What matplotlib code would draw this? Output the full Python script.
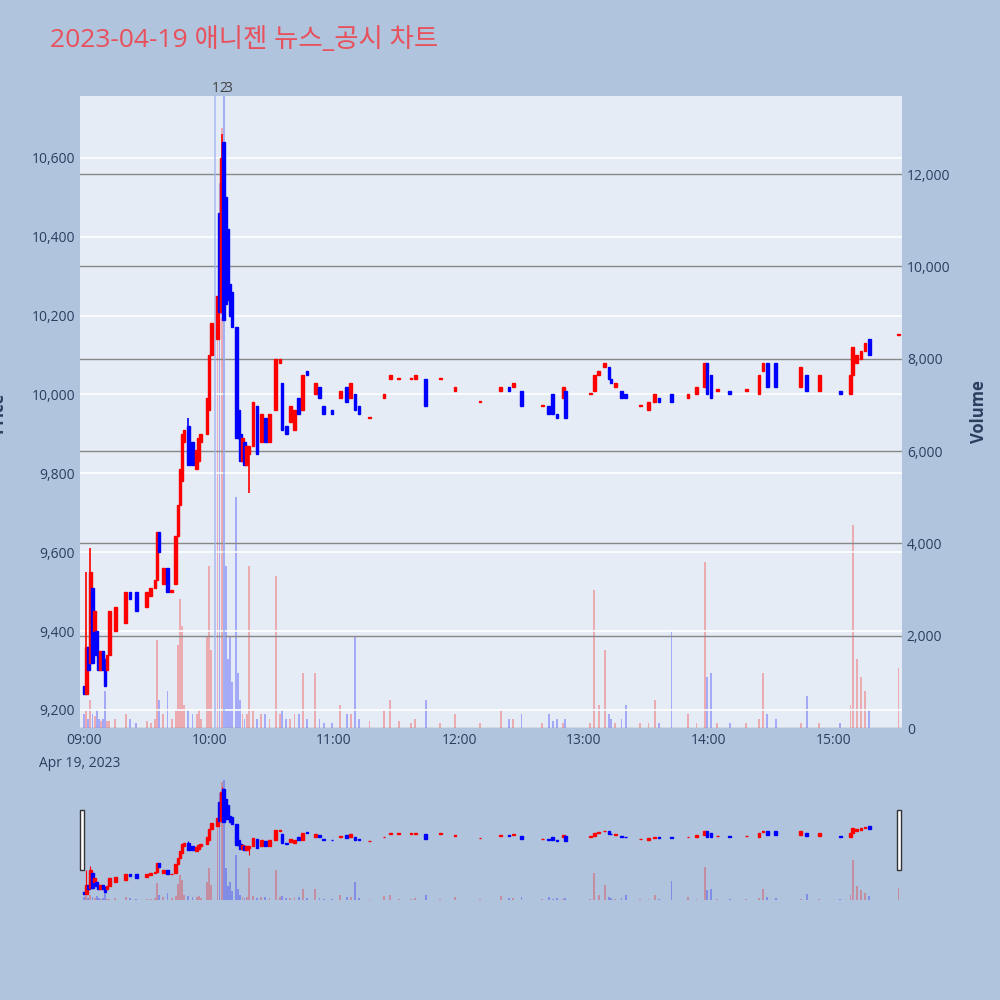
import matplotlib
matplotlib.use("Agg")
import matplotlib.pyplot as plt
from matplotlib.patches import Rectangle

plt.rcParams['font.family'] = ['Open Sans', 'Noto Sans CJK KR', 'DejaVu Sans']

# minute offsets from 09:00, open, close, volume
minutes = [0, 1, 2, 3, 4, 5, 6, 7, 8, 9, 10, 11, 12, 15, 20, 22, 25, 30, 32, 34, 35, 36, 38, 40, 42, 44,
           45, 46, 47, 48, 50, 52, 54, 55, 56, 59, 60, 61, 64, 65, 66, 67, 68, 69, 70, 71, 73, 74, 75, 76,
           77, 78, 79, 81, 83, 85, 87, 89, 92, 94, 95, 97, 99, 101, 103, 105, 107, 111, 113, 115, 119,
           123, 126, 128, 130, 132, 137, 144, 147, 151, 157, 159, 164, 171, 178, 190, 200, 204, 206, 210,
           220, 223, 225, 227, 230, 231, 243, 245, 247, 250, 252, 253, 255, 258, 260, 267, 271, 274, 276,
           282, 290, 294, 298, 299, 301, 304, 310, 318, 324, 326, 328, 332, 344, 347, 353, 363, 368, 369,
           371, 373, 375, 377, 391]
opens = [9260, 9240, 9360, 9320, 9510, 9400, 9400, 9340, 9300, 9350, 9330, 9300, 9340, 9400, 9420, 9500,
         9500, 9460, 9490, 9510, 9530, 9650, 9520, 9560, 9500, 9520, 9640, 9720, 9780, 9880, 9920, 9880,
         9810, 9830, 9880, 9900, 9960, 10100, 10140, 10460, 10210, 10640, 10500, 10420, 10280, 10260,
         10170, 9960, 9900, 9830, 9880, 9820, 9850, 9870, 9970, 9880, 9940, 9880, 9960, 10080, 10030,
         9920, 9930, 9910, 9990, 9960, 10060, 10000, 10020, 9970, 9960, 9990, 10020, 9990, 10000, 9970,
         9940, 9990, 10040, 10040, 10040, 10040, 10040, 10040, 10010, 9980, 10010, 10020, 10020, 10010,
         9970, 9970, 10000, 9950, 9990, 10010, 10000, 10010, 10050, 10070, 10070, 10040, 10020, 10010,
         10000, 9970, 9960, 9980, 9990, 10000, 9990, 10000, 10020, 10080, 10050, 10010, 10010, 10010,
         10000, 10060, 10080, 10080, 10020, 10050, 10010, 10010, 10000, 10050, 10080, 10090, 10110,
         10140, 10150]
closes = [9240, 9360, 9300, 9550, 9320, 9450, 9340, 9300, 9350, 9300, 9260, 9340, 9450, 9460, 9500, 9480,
          9450, 9500, 9510, 9530, 9650, 9600, 9560, 9500, 9500, 9640, 9720, 9810, 9900, 9910, 9820, 9820,
          9860, 9890, 9900, 9990, 10100, 10180, 10250, 10210, 10600, 10190, 10230, 10240, 10200, 10170,
          9890, 9890, 9830, 9890, 9820, 9870, 9870, 9980, 9850, 9950, 9880, 9950, 10090, 10090, 9910,
          9900, 9970, 9960, 9950, 10050, 10050, 10030, 9990, 9950, 9950, 10010, 9980, 10030, 9960, 9950,
          9940, 10000, 10050, 10040, 10040, 10050, 9970, 10040, 10020, 9980, 10020, 10010, 10030, 9970,
          9970, 9950, 9950, 9940, 10020, 9940, 10000, 10050, 10060, 10080, 10040, 10030, 10030, 9990,
          9990, 9970, 9980, 10000, 9980, 9980, 10000, 10020, 10080, 10000, 9990, 10010, 10000, 10010,
          10050, 10080, 10020, 10020, 10070, 10010, 10050, 10000, 10050, 10120, 10100, 10110, 10130,
          10100, 10150]
volumes = [300, 400, 200, 600, 300, 250, 400, 200, 150, 200, 800, 150, 150, 200, 300, 200, 100, 150, 100,
           200, 1900, 600, 300, 800, 200, 400, 1800, 2800, 2200, 500, 400, 300, 300, 400, 200, 2000, 3500,
           1700, 9000, 11800, 13000, 14000, 3500, 1500, 2000, 1000, 5000, 1200, 600, 300, 200, 300, 3500,
           400, 200, 300, 300, 200, 3300, 300, 400, 200, 200, 300, 300, 1200, 200, 1200, 200, 100, 100,
           500, 300, 300, 2000, 200, 150, 400, 600, 150, 100, 200, 600, 100, 300, 100, 400, 200, 200,
           300, 100, 300, 150, 200, 100, 200, 100, 3000, 500, 1700, 300, 200, 100, 200, 500, 100, 100,
           600, 100, 2100, 300, 100, 3600, 1100, 1200, 100, 100, 100, 200, 1200, 300, 200, 100, 700,
           100, 100, 500, 4400, 1500, 1100, 800, 400, 1300]
wick_high = {1: 9550, 3: 9610, 50: 9940, 66: 10660, 67: 10640}
wick_low = {79: 9750}
news_minutes = [63, 67, 69]
news_labels = ['1', '2', '3']
tick_minutes = [0, 60, 120, 180, 240, 300, 360]
tick_labels = ['09:00', '10:00', '11:00', '12:00', '13:00', '14:00', '15:00']

BG = '#b0c4de'
PLOT = '#e5ecf6'


def draw(ax, axv, lw, width):
    for m, o, c, v in zip(minutes, opens, closes, volumes):
        col = 'red' if c >= o else 'blue'
        hi = wick_high.get(m, max(o, c))
        lo = wick_low.get(m, min(o, c))
        axv.bar(m, v, width=0.9, color=col, alpha=0.28, linewidth=0)
        ax.vlines(m, lo, hi, color=col, lw=lw, zorder=3)
        body = abs(c - o) if c != o else 3
        ax.add_patch(Rectangle((m - width / 2, min(o, c)), width, body, color=col, zorder=4))


fig = plt.figure(figsize=(10, 10), dpi=100, facecolor=BG)
ax = fig.add_axes([0.08, 0.272, 0.822, 0.632], facecolor=PLOT)
axv = ax.twinx()
ax.set_zorder(axv.get_zorder() + 1)
ax.patch.set_visible(False)
axv.set_facecolor(PLOT)
axv.patch.set_visible(True)

draw(ax, axv, 1.2, 1.3)
for m in news_minutes[:2]:
    ax.axvline(m, color='#9fb4f0', lw=1.2, alpha=0.8, zorder=2)
for m, t in zip(news_minutes, news_labels):
    ax.text(m, 10757, t, ha='center', va='bottom', fontsize=10, color='#444444')

ax.set_xlim(-2, 392.7)
ax.set_ylim(9154, 10757)
axv.set_ylim(0, 13690)
ax.set_yticks([9200, 9400, 9600, 9800, 10000, 10200, 10400, 10600])
ax.set_yticklabels(['9,200', '9,400', '9,600', '9,800', '10,000', '10,200', '10,400', '10,600'])
ax.grid(axis='y', color='white', lw=1.2)
ax.grid(axis='x', visible=False)
axv.set_yticks([0, 2000, 4000, 6000, 8000, 10000, 12000])
axv.set_yticklabels(['0', '2,000', '4,000', '6,000', '8,000', '10,000', '12,000'])
axv.grid(axis='y', color='#888888', lw=1)
ax.set_xticks(tick_minutes)
ax.set_xticklabels(tick_labels)
ax.text(-2, -0.045, 'Apr 19, 2023', transform=ax.get_xaxis_transform(), ha='center', va='top',
        fontsize=10, color='#2a3f5f')
for a in (ax, axv):
    a.tick_params(length=0, labelsize=10, colors='#2a3f5f')
    for s in a.spines.values():
        s.set_visible(False)
ax.set_ylabel('Price', fontsize=12, fontweight='bold', color='#2a3f5f', labelpad=18)
axv.set_ylabel('Volume', fontsize=12, fontweight='bold', color='#2a3f5f', labelpad=14)

# range slider
axs = fig.add_axes([0.08, 0.10, 0.822, 0.12], facecolor=PLOT)
axsv = axs.twinx()
axs.set_zorder(axsv.get_zorder() + 1)
axs.patch.set_visible(False)
axsv.set_facecolor(PLOT)
draw(axs, axsv, 0.8, 1.3)
axs.set_xlim(-2, 392.7)
axs.set_ylim(9154, 10757)
axsv.set_ylim(0, 13200)
for a in (axs, axsv):
    a.set_xticks([])
    a.set_yticks([])
    for s in a.spines.values():
        s.set_visible(False)
for x0 in (0.080, 0.897):
    fig.patches.append(Rectangle((x0, 0.13), 0.004, 0.06, transform=fig.transFigure,
                                 facecolor='white', edgecolor='#333333', lw=1))

fig.text(0.05, 0.96, '2023-04-19 애니젠 뉴스_공시 차트', fontsize=19, color='#e8505b', va='center')

fig.savefig('out.png', dpi=100, facecolor=BG)
